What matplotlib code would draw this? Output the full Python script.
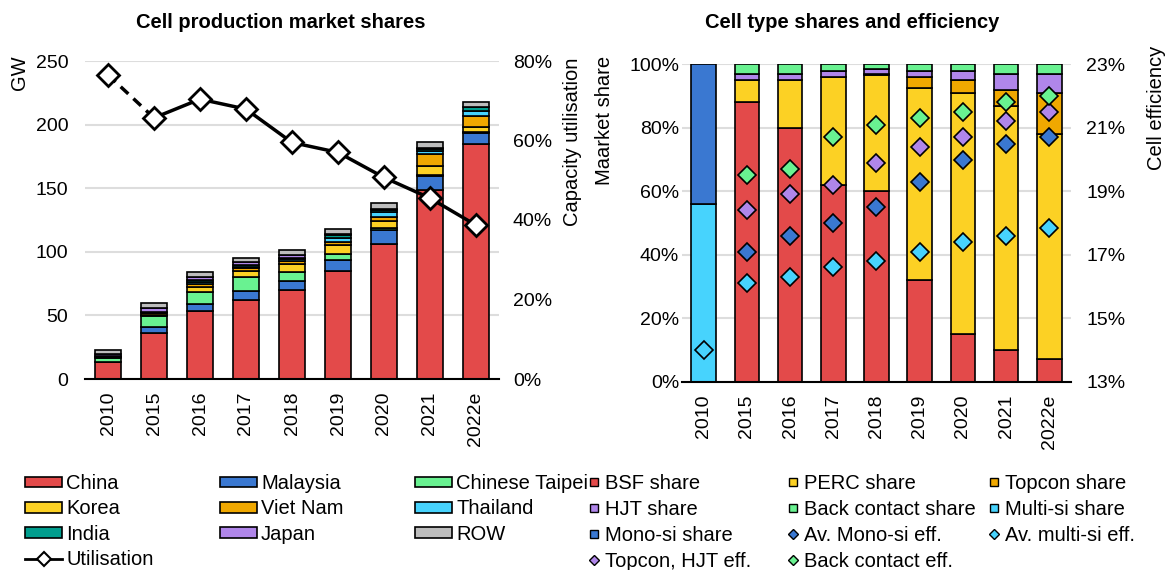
import numpy as np
import matplotlib
matplotlib.use("Agg")
import matplotlib.pyplot as plt
from matplotlib.patches import Patch
from matplotlib.lines import Line2D

plt.rcParams['font.family'] = ['Liberation Sans', 'DejaVu Sans']

W, H = 1165, 570

years = ['2010', '2015', '2016', '2017', '2018', '2019', '2020', '2021', '2022e']

# left chart: cell production by country (GW)
china    = [13, 36.5, 53.5, 62, 70, 85, 106, 148.5, 185]
malaysia = [0.5, 4, 5.5, 7, 7, 8.5, 11, 11, 8.5]
taipei   = [3, 9, 9.5, 11, 7.5, 4.5, 1.5, 1, 1]
korea    = [1, 1, 4, 5, 6, 7, 6, 7, 3.5]
vietnam  = [0, 1, 2, 2, 2.5, 2.5, 3, 9, 8.5]
thailand = [0, 0.5, 1.5, 1, 1, 3.5, 3.5, 3, 4.5]
india    = [0.5, 1, 1.5, 2, 1.5, 2, 2, 1.5, 2.5]
japan    = [1.5, 3, 3, 2, 2, 1, 1, 0.5, 0.5]
row      = [3.5, 4, 3.5, 3, 4, 4, 4.5, 4.5, 4]
utilisation = [76.5, 65.7, 70.4, 67.9, 59.5, 57.0, 50.7, 45.5, 38.7]  # %

# right chart: cell type shares (%) and efficiency (%)
bsf    = [0, 88, 80, 62, 60, 32, 15, 10, 7]
perc   = [0, 7, 15, 34, 36.5, 60.5, 76, 77, 71]
topcon = [0, 0, 0, 0, 0.5, 3.5, 4, 5, 13]
hjt    = [0, 2, 2, 2, 1.5, 2, 3, 5, 6]
bc     = [0, 3, 3, 2, 1.5, 2, 2, 3, 3]
multi  = [56, 0, 0, 0, 0, 0, 0, 0, 0]
mono   = [44, 0, 0, 0, 0, 0, 0, 0, 0]
eff_mono   = [np.nan, 17.1, 17.6, 18.0, 18.5, 19.3, 20.0, 20.5, 20.7]
eff_multi  = [14.0, 16.1, 16.3, 16.6, 16.8, 17.1, 17.4, 17.6, 17.85]
eff_tchjt  = [np.nan, 18.4, 18.9, 19.2, 19.9, 20.4, 20.7, 21.2, 21.5]
eff_bc     = [np.nan, 19.5, 19.7, 20.7, 21.1, 21.3, 21.5, 21.8, 22.0]

RED = '#E34A4A'
BLUE = '#3A78D1'
GREEN = '#69F291'
YELLOW = '#FCD124'
ORANGE = '#F0A800'
CYAN = '#47D3FD'
TEAL = '#009E8E'
PURPLE = '#B086EA'
GRAY = '#BDBDBD'
GRID = '#DDDDDD'
FS = 14
FS_T = 14.5   # titles, axis titles, legends

fig = plt.figure(figsize=(W / 100, H / 100), dpi=100)


def box(x0, x1, ytop, ybot):
    return [x0 / W, 1 - ybot / H, (x1 - x0) / W, (ybot - ytop) / H]


def style_axis(ax):
    for s in ['top', 'right', 'left']:
        ax.spines[s].set_visible(False)
    ax.spines['bottom'].set_color('black')
    ax.spines['bottom'].set_linewidth(1.5)
    ax.yaxis.grid(True, color=GRID, lw=1.5)
    ax.set_axisbelow(True)
    ax.tick_params(axis='y', length=0, labelsize=FS)
    ax.tick_params(axis='x', length=0, labelsize=FS, rotation=90, pad=9)


x = np.arange(len(years))

# ---------- left chart ----------
ax1 = fig.add_axes(box(85, 499, 61, 379))
style_axis(ax1)
series = [(china, RED), (malaysia, BLUE), (taipei, GREEN), (korea, YELLOW),
          (vietnam, ORANGE), (thailand, CYAN), (india, TEAL), (japan, PURPLE), (row, GRAY)]
bottom = np.zeros(len(years))
for vals, col in series:
    v = np.array(vals, dtype=float)
    ax1.bar(x, v, 0.58, bottom=bottom, color=col, edgecolor='black', linewidth=1.2, zorder=2)
    bottom += v
ax1.set_xlim(-0.5, 8.5)
ax1.set_ylim(0, 250)
ax1.set_yticks(range(0, 251, 50))
ax1.tick_params(axis='y', pad=12)
ax1.set_xticks(x)
ax1.set_xticklabels(years)

ax1b = ax1.twinx()
for s in ax1b.spines.values():
    s.set_visible(False)
ax1b.set_ylim(0, 80)
ax1b.set_yticks(range(0, 81, 20))
ax1b.set_yticklabels([f'{t}%' for t in range(0, 81, 20)])
ax1b.tick_params(axis='y', length=0, labelsize=FS, pad=10)
u = np.array(utilisation)
ax1b.plot(x[:2], u[:2], color='black', lw=2.5, ls=(0, (3, 2)), zorder=3)
ax1b.plot(x[1:], u[1:], color='black', lw=2.5, zorder=3)
ax1b.plot(x, u, ls='none', marker='D', ms=11, mfc='white', mec='black', mew=2, zorder=4)

fig.text(281 / W, 1 - 22 / H, 'Cell production market shares', ha='center', va='center',
         fontsize=FS_T, fontweight='bold')
fig.text(20 / W, 1 - 73 / H, 'GW', rotation=90, ha='center', va='center', fontsize=FS_T)
fig.text(573 / W, 1 - 142 / H, 'Capacity utilisation', rotation=90, ha='center', va='center', fontsize=FS_T)

# ---------- right chart ----------
ax2 = fig.add_axes(box(682, 1071, 64.3, 381.7))
style_axis(ax2)
shares = [(bsf, RED), (perc, YELLOW), (topcon, ORANGE), (hjt, PURPLE), (bc, GREEN),
          (multi, CYAN), (mono, BLUE)]
bottom = np.zeros(len(years))
for vals, col in shares:
    v = np.array(vals, dtype=float)
    lw = np.where(v > 0, 1.2, 0)
    ax2.bar(x, v, 0.57, bottom=bottom, color=col, edgecolor='black', linewidth=lw, zorder=2)
    bottom += v
ax2.set_xlim(-0.5, 8.5)
ax2.set_ylim(0, 100)
ax2.set_yticks(range(0, 101, 20))
ax2.set_yticklabels([f'{t}%' for t in range(0, 101, 20)])
ax2.tick_params(axis='y', pad=2)
ax2.set_xticks(x)
ax2.set_xticklabels(years)

ax2b = ax2.twinx()
for s in ax2b.spines.values():
    s.set_visible(False)
ax2b.set_ylim(13, 23)
ax2b.set_yticks(range(13, 24, 2))
ax2b.set_yticklabels([f'{t}%' for t in range(13, 24, 2)])
ax2b.tick_params(axis='y', length=0, labelsize=FS, pad=11)
for vals, col in [(eff_mono, BLUE), (eff_multi, CYAN), (eff_tchjt, PURPLE), (eff_bc, GREEN)]:
    ax2b.plot(x, vals, ls='none', marker='D', ms=9, mfc=col, mec='black', mew=1.2, zorder=4)

fig.text(852 / W, 1 - 22 / H, 'Cell type shares and efficiency', ha='center', va='center',
         fontsize=FS_T, fontweight='bold')
fig.text(605 / W, 1 - 120 / H, 'Maarket share', rotation=90, ha='center', va='center', fontsize=FS_T)
fig.text(1156 / W, 1 - 108 / H, 'Cell efficiency', rotation=90, ha='center', va='center', fontsize=FS_T)


# ---------- legends ----------
def patch(col):
    return Patch(facecolor=col, edgecolor='black', linewidth=1.2)


def sq(col):
    return Line2D([], [], ls='none', marker='s', ms=6, mfc=col, mec='black', mew=1)


def dia(col):
    return Line2D([], [], ls='none', marker='D', ms=5.5, mfc=col, mec='black', mew=1)


def put_legend(items, px, py, hl, hh, htp, sp):
    lg = fig.legend([h for h, _ in items], [t for _, t in items], loc='upper left',
                    bbox_to_anchor=(px / W, 1 - py / H), frameon=False, fontsize=FS_T,
                    borderpad=0, borderaxespad=0, labelspacing=sp,
                    handlelength=hl, handleheight=hh, handletextpad=htp)
    return lg


util_h = Line2D([], [], color='black', lw=2, marker='D', ms=7, mfc='white', mec='black', mew=1.5)
left_cols = [
    [(patch(RED), 'China'), (patch(YELLOW), 'Korea'), (patch(TEAL), 'India'), (util_h, 'Utilisation')],
    [(patch(BLUE), 'Malaysia'), (patch(ORANGE), 'Viet Nam'), (patch(PURPLE), 'Japan')],
    [(patch(GREEN), 'Chinese Taipei'), (patch(CYAN), 'Thailand'), (patch(GRAY), 'ROW')],
]
for items, px in zip(left_cols, [25, 220, 415]):
    put_legend(items, px, 474, 1.84, 0.43, 0.2, 0.32)

right_cols = [
    [(sq(RED), 'BSF share'), (sq(PURPLE), 'HJT share'), (sq(BLUE), 'Mono-si share'),
     (dia(PURPLE), 'Topcon, HJT eff.')],
    [(sq(YELLOW), 'PERC share'), (sq(GREEN), 'Back contact share'), (dia(BLUE), 'Av. Mono-si eff.'),
     (dia(GREEN), 'Back contact eff.')],
    [(sq(ORANGE), 'Topcon share'), (sq(CYAN), 'Multi-si share'), (dia(CYAN), 'Av. multi-si eff.')],
]
for items, px in zip(right_cols, [588, 787, 988]):
    put_legend(items, px, 474, 0.6, 0.6, 0.25, 0.34)

fig.savefig('out.png', dpi=100)
